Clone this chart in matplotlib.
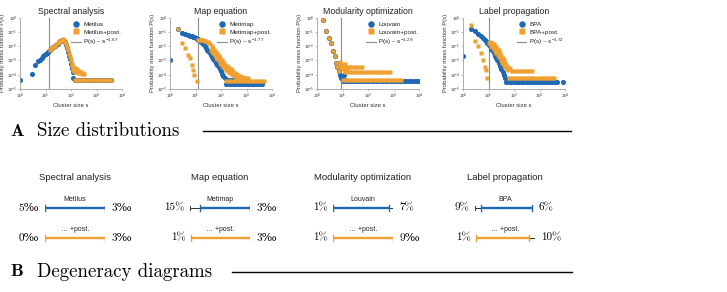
import numpy as np
import matplotlib
matplotlib.use("Agg")
import matplotlib.pyplot as plt
from matplotlib.lines import Line2D
from matplotlib.ticker import LogLocator, NullLocator

plt.rcParams['font.family'] = ['Liberation Sans', 'DejaVu Sans']
plt.rcParams['mathtext.fontset'] = 'custom'
plt.rcParams['mathtext.rm'] = 'Liberation Sans'
plt.rcParams['mathtext.it'] = 'Liberation Sans:italic'

BLUE = "#1f68b3"
ORANGE = "#efa031"
GRAY = "#8c8c8c"
SERIF = ['cmr10', 'DejaVu Serif']

# ---------------- data: size distributions ----------------
titles = ['Spectral analysis', 'Map equation', 'Modularity optimization', 'Label propagation']
base_names = ['Metilus', 'Metimap', 'Louvain', 'BPA']
exponents = ['1.67', '1.77', '1.29', '1.72']
cutoffs = [14, 13, 9, 10]

spec_blue_s = [1, 3, 4, 5, 6, 7, 8, 9, 10, 11, 12, 14, 16, 18, 20, 23, 26, 30, 34, 38, 43, 48, 53, 58, 64, 70, 76, 83, 90, 98, 106, 115, 125]
spec_blue_p = [4e-5, 1.15e-4, 4.4e-4, 9e-4, 1.1e-3, 1.4e-3, 1.9e-3, 2.3e-3, 2.7e-3, 3.2e-3, 3.6e-3, 4.6e-3, 5.8e-3, 7e-3, 8.3e-3, 1.0e-2, 1.25e-2, 1.5e-2, 1.8e-2, 2.1e-2, 2.5e-2, 2.8e-2, 2.4e-2, 1.8e-2, 1.2e-2, 7e-3, 4e-3, 2.2e-3, 1.2e-3, 6e-4, 3e-4, 1.5e-4, 6e-5]
spec_blue_tail_s = [140, 170, 210, 260, 320, 400, 500, 630, 790, 1000, 1260, 1580, 2000, 2500, 3000, 3600]
spec_blue_tail_p = 4e-5
spec_orange_s = [15, 16, 18, 20, 23, 26, 30, 34, 38, 43, 48, 53, 58, 64, 70, 76, 83, 90, 98, 106, 110, 115, 120, 125, 135, 140, 150, 160, 170, 185, 200, 220, 240, 260, 290, 320]
spec_orange_p = [5.6e-3, 6.2e-3, 7.3e-3, 8.6e-3, 1.05e-2, 1.3e-2, 1.55e-2, 1.85e-2, 2.2e-2, 2.6e-2, 3e-2, 2.6e-2, 2e-2, 1.4e-2, 8.5e-3, 5e-3, 3e-3, 1.7e-3, 1e-3, 6e-4, 4.5e-4, 3.5e-4, 2.8e-4, 2.2e-4, 1.8e-4, 3e-4, 2.2e-4, 1.5e-4, 2.5e-4, 1.4e-4, 1.8e-4, 1.3e-4, 1.6e-4, 1.2e-4, 1.3e-4, 1.2e-4]
spec_orange_tail_s = [145, 175, 210, 260, 320, 400, 500, 630, 790, 1000, 1260, 1580, 2000, 2500, 3000, 3600]
spec_orange_tail_p = 4e-5

map_blue_s = [1, 2, 3, 4, 5, 6, 7, 8, 9, 10, 11, 12, 13, 15, 17, 20, 23, 25, 28, 32, 36, 40, 45, 50, 56, 63, 70, 80, 90, 100, 112, 125, 140]
map_blue_p = [1.1e-3, 0.16, 0.083, 0.07, 0.06, 0.052, 0.047, 0.043, 0.04, 0.036, 0.033, 0.03, 0.028, 0.024, 0.019, 0.0135, 0.0095, 0.0075, 0.0056, 0.0042, 0.0032, 0.0024, 0.0018, 0.0013, 9e-4, 6.5e-4, 5e-4, 3.7e-4, 2.5e-4, 1.7e-4, 1.2e-4, 8e-5, 5.6e-5]
map_blue_tail_s = [160, 200, 250, 320, 400, 500, 630, 790, 1000, 1260, 1580, 2000, 2500, 3200, 4000]
map_blue_tail_p = 2.2e-5
map_blue_tail2_s = [170, 210, 260, 330, 420, 530, 670, 850]
map_blue_tail2_p = 4.5e-5
map_orange_head_s = [2, 3, 4, 5, 6, 7, 8, 9, 11]
map_orange_head_p = [0.16, 0.017, 0.0072, 0.0025, 0.00145, 5e-4, 2.2e-4, 1e-4, 3.6e-5]
map_orange_s = [13, 14, 16, 18, 20, 23, 26, 30, 34, 38, 43, 48, 54, 60, 68, 76, 85, 95, 106, 120, 135, 150, 170, 190, 215, 240, 270, 300, 340, 380, 430, 480, 540, 600, 680, 760, 850, 950, 1100]
map_orange_p = [0.028, 0.028, 0.027, 0.026, 0.025, 0.023, 0.021, 0.019, 0.016, 0.013, 0.0095, 0.0072, 0.0056, 0.0042, 0.0032, 0.0025, 0.0019, 0.0014, 0.0011, 8e-4, 6e-4, 5e-4, 4e-4, 3.3e-4, 2.9e-4, 2.4e-4, 2e-4, 1.6e-4, 1.4e-4, 1.2e-4, 1e-4, 9e-5, 8e-5, 7e-5, 6.5e-5, 6e-5, 5.6e-5, 5.6e-5, 5.6e-5]
map_orange_band_s = [40, 45, 50, 56, 63, 70, 80, 90, 100, 112, 125, 140, 160, 180, 200, 230, 260, 300, 350, 400, 460, 520, 600, 700, 800]
map_orange_band_p = [0.0056, 0.0042, 0.0032, 0.0024, 0.0018, 0.0013, 0.001, 7e-4, 5.6e-4, 4.4e-4, 3.5e-4, 2.8e-4, 2.3e-4, 1.9e-4, 1.6e-4, 1.3e-4, 1.1e-4, 9e-5, 8e-5, 7e-5, 6e-5, 5.6e-5, 5e-5, 5e-5, 4.5e-5]
map_orange_tail_s = [160, 200, 250, 320, 400, 500, 630, 790, 1000, 1260, 1580, 2000, 2500, 3200, 4000, 5000]
map_orange_tail_p = 3.6e-5

louv_blue_s = [1.7, 2.3, 2.9, 3.6, 4.4, 5.1, 5.8, 6.3, 7.4, 8.1, 8.6, 9.5, 11, 13]
louv_blue_p = [0.72, 0.11, 0.037, 0.017, 4.3e-3, 1.9e-3, 6.5e-4, 3.7e-4, 1.7e-4, 1e-4, 5.6e-5, 8e-5, 1e-4, 4.5e-5]
louv_blue_tail_s = [10, 12.6, 16, 20, 25, 32, 40, 50, 63, 79, 100, 126, 158, 200, 251, 316, 400, 500, 630, 790, 1000, 1260, 1580, 2000, 2500, 3160, 4000, 5000, 6300, 7900, 9500]
louv_blue_tail_p = 3.6e-5
louv_orange_s = [1.7, 2.3, 2.9, 3.6, 4.4, 5.1, 5.8, 6.3, 7.4, 8, 9, 10, 11, 12, 13, 15]
louv_orange_p = [0.72, 0.11, 0.037, 0.017, 4.3e-3, 1.9e-3, 6.5e-4, 3.7e-4, 1.7e-4, 8.3e-4, 6e-4, 2.5e-4, 5e-4, 2.5e-4, 6e-4, 2.2e-4]
louv_orange_row1_s = [9, 11, 14, 18, 22, 28, 35, 45, 58]
louv_orange_row1_p = 3.7e-4
louv_orange_row2_s = [12, 15, 19, 24, 30, 38, 48, 60, 76, 95, 107, 145, 180, 230, 290, 370, 460, 580, 700]
louv_orange_row2_p = 1.66e-4
louv_orange_row3_s = [10, 12.6, 16, 20, 25, 32, 40, 50, 63, 79, 100, 126, 158, 200, 251, 316, 400, 500, 630, 790, 1000, 1260, 1580, 2000]
louv_orange_row3_p = 4.3e-5

bpa_blue_s = [1, 2, 3, 4, 5, 6, 7, 8, 9, 10, 11, 12, 13, 14, 16, 18, 20, 22, 25, 28, 32, 36, 40, 45]
bpa_blue_p = [1.9e-3, 0.16, 0.11, 0.07, 0.05, 0.037, 0.028, 0.021, 0.016, 0.0126, 0.01, 0.008, 0.0065, 0.0052, 0.0032, 0.0022, 0.0015, 0.001, 6.5e-4, 4.3e-4, 2.6e-4, 1.6e-4, 1e-4, 6e-5]
bpa_blue_tail_s = [50, 63, 79, 100, 126, 158, 200, 251, 316, 400, 500, 630, 790, 1000, 1260, 1580, 2000, 2500, 3160, 4000, 5000, 8000]
bpa_blue_tail_p = 3.3e-5
bpa_orange_s = [2, 3, 4, 5, 6, 7, 8, 9, 10, 11, 12, 13, 14, 16, 18, 20, 22, 25, 28, 32, 36, 40, 45, 50, 56, 63, 70]
bpa_orange_p = [0.32, 0.021, 0.0095, 0.0032, 0.0011, 3.7e-4, 2.2e-4, 5.6e-5, 0.0166, 0.018, 0.0166, 0.016, 0.016, 0.014, 0.011, 0.0085, 0.0065, 0.005, 0.0035, 0.0022, 0.0014, 0.001, 7e-4, 5e-4, 3.7e-4, 3e-4, 2.5e-4]
bpa_orange_band_s = [12, 14, 16, 18, 20, 23, 26, 30, 35, 40, 46, 52, 60]
bpa_orange_band_p = [0.01, 0.008, 0.006, 0.0045, 0.0035, 0.0025, 0.0017, 0.0011, 7e-4, 4.5e-4, 3.2e-4, 2.5e-4, 2e-4]
bpa_orange_row1_s = [80, 100, 126, 158, 200, 250, 320, 400, 500]
bpa_orange_row1_p = 1.7e-4
bpa_orange_row2_s = [63, 79, 100, 126, 158, 200, 251, 316, 400, 500, 630, 790, 1000, 1260, 1580, 2000, 2500, 3200, 3600]
bpa_orange_row2_p = 6.3e-5

blue_series = [
    [(spec_blue_s, spec_blue_p), (spec_blue_tail_s, spec_blue_tail_p)],
    [(map_blue_s, map_blue_p), (map_blue_tail_s, map_blue_tail_p), (map_blue_tail2_s, map_blue_tail2_p)],
    [(louv_blue_s, louv_blue_p), (louv_blue_tail_s, louv_blue_tail_p)],
    [(bpa_blue_s, bpa_blue_p), (bpa_blue_tail_s, bpa_blue_tail_p)],
]
orange_series = [
    [(spec_orange_s, spec_orange_p), (spec_orange_tail_s, spec_orange_tail_p)],
    [(map_orange_head_s, map_orange_head_p), (map_orange_s, map_orange_p), (map_orange_band_s, map_orange_band_p), (map_orange_tail_s, map_orange_tail_p)],
    [(louv_orange_s, louv_orange_p), (louv_orange_row1_s, louv_orange_row1_p), (louv_orange_row2_s, louv_orange_row2_p), (louv_orange_row3_s, louv_orange_row3_p)],
    [(bpa_orange_s, bpa_orange_p), (bpa_orange_band_s, bpa_orange_band_p), (bpa_orange_row1_s, bpa_orange_row1_p), (bpa_orange_row2_s, bpa_orange_row2_p)],
]

# ---------------- data: degeneracy diagrams ----------------
post_name = '\u2026 +post.'
base_left = ['5\u2030', '15%', '1%', '9%']
base_right = ['3\u2030', '3\u2030', '7%', '6%']
post_left = ['0\u2030', '1%', '1%', '1%']
post_right = ['3\u2030', '3\u2030', '9\u2030', '10%']
base_bar = [(0.0, 1.0), (0.17, 1.0), (0.0, 0.93), (0.1, 0.95)]
base_whisker = [None, (0.0, 0.17), (0.93, 1.0), (0.0, 0.1)]
post_bar = [(0.0, 1.0), (0.02, 1.0), (0.0, 1.0), (0.02, 0.9)]
post_whisker = [None, None, None, (0.9, 1.0)]

# ---------------- figure ----------------
W, H = 727, 292
fig = plt.figure(figsize=(W / 100, H / 100), dpi=100)


def ax_px(l, t, w, h):
    return fig.add_axes([l / W, 1 - (t + h) / H, w / W, h / H])


top_left = [20, 170, 317, 463]
for i in range(4):
    ax = ax_px(top_left[i], 17.5, 102, 71.5)
    ax.set_xscale('log')
    ax.set_yscale('log')
    for k, (s, p) in enumerate(blue_series[i]):
        s = np.asarray(s, float)
        p = np.broadcast_to(np.asarray(p, float), s.shape)
        ax.plot(s, p, ls='none', marker='o', ms=3.7, mfc=BLUE, mec='none', color=BLUE,
                label=base_names[i] if k == 0 else '_nolegend_', zorder=2)
    for k, (s, p) in enumerate(orange_series[i]):
        s = np.asarray(s, float)
        p = np.broadcast_to(np.asarray(p, float), s.shape)
        ax.plot(s, p, ls='none', marker='s', ms=3.2, mfc=ORANGE, mec='none', color=ORANGE,
                label=base_names[i] + '+post.' if k == 0 else '_nolegend_', zorder=3)
    ax.axvline(cutoffs[i], color=GRAY, lw=0.8, zorder=1,
               label=r'P(s) ~ $\mathrm{s}^{-' + exponents[i] + '}$')
    ax.set_xlim(1, 1e4)
    ax.set_ylim(1e-5, 1)
    ax.xaxis.set_major_locator(LogLocator(base=10, numticks=10))
    ax.yaxis.set_major_locator(LogLocator(base=10, numticks=10))
    ax.xaxis.set_minor_locator(NullLocator())
    ax.yaxis.set_minor_locator(NullLocator())
    ax.tick_params(labelsize=3.2, length=1.2, width=0.4, color='#999999', pad=0.8, labelcolor='#333333')
    for side in ('top', 'right'):
        ax.spines[side].set_visible(False)
    for side in ('left', 'bottom'):
        ax.spines[side].set_color('#a0a0a0')
        ax.spines[side].set_linewidth(0.6)
    ax.set_title(titles[i], fontsize=6.3, pad=2.5, color='#222222')
    ax.set_xlabel('Cluster size s', fontsize=4.2, labelpad=1.5, color='#333333')
    ax.set_ylabel('Probability mass function P(s)', fontsize=4.2, labelpad=1.5, color='#333333')
    leg = ax.legend(loc='upper right', bbox_to_anchor=(1.03, 1.0), fontsize=4.6, frameon=False,
                    handlelength=1.5, handletextpad=0.4, labelspacing=0.35, borderaxespad=0.2,
                    markerscale=1.25)
    for t in leg.get_texts():
        t.set_color('#222222')

# section headers
def header(letter, text, y, x_line0, x_line1):
    fig.text(10 / W, 1 - y / H, letter, family=['cmb10', 'DejaVu Serif'], fontsize=13, va='center', ha='left')
    fig.text(37 / W, 1 - y / H, text, family=SERIF, fontsize=13.6, va='center', ha='left')
    fig.add_artist(Line2D([x_line0 / W, x_line1 / W], [1 - y / H, 1 - y / H], color='black', lw=1.0))


header('A', 'Size distributions', 131, 203, 571)
header('B', 'Degeneracy diagrams', 272, 232, 572)

# degeneracy diagrams
deg_left = [45, 190, 333, 475]
for i in range(4):
    ax = ax_px(deg_left[i], 193, 60, 60)
    ax.set_xlim(0, 1)
    ax.set_ylim(1.5, -0.5)
    ax.axis('off')
    rows = [(0, BLUE, base_bar[i], base_whisker[i], base_left[i], base_right[i], base_names[i]),
            (1, ORANGE, post_bar[i], post_whisker[i], post_left[i], post_right[i], post_name)]
    for y, col, bar, wh, lt, rt, name in rows:
        xs = [bar[0], bar[1]]
        if wh is not None:
            ax.plot(wh, [y, y], color='#333333', lw=0.7, solid_capstyle='butt', zorder=1)
            outer = wh[0] if wh[0] < bar[0] else wh[1]
            ax.plot([outer, outer], [y - 0.07, y + 0.07], color='#333333', lw=0.7, zorder=1)
            xs += list(wh)
        ax.plot(bar, [y, y], color=col, lw=1.7, solid_capstyle='butt', zorder=2)
        for xe in bar:
            ax.plot([xe, xe], [y - 0.09, y + 0.09], color=col, lw=1.0, zorder=2)
        ax.annotate(lt, xy=(min(xs), y), xytext=(-4, 0), textcoords='offset points',
                    ha='right', va='center', fontsize=8, family=SERIF, annotation_clip=False)
        ax.annotate(rt, xy=(max(xs), y), xytext=(4.5, 0), textcoords='offset points',
                    ha='left', va='center', fontsize=8, family=SERIF, annotation_clip=False)
        ax.text(0.5, y - 0.28, name, ha='center', va='center', fontsize=5, color='#222222', clip_on=False)
    ax.text(0.5, -1.0, titles[i], ha='center', va='center', fontsize=6.8, color='#222222', clip_on=False)

fig.savefig('out.png', dpi=100)
